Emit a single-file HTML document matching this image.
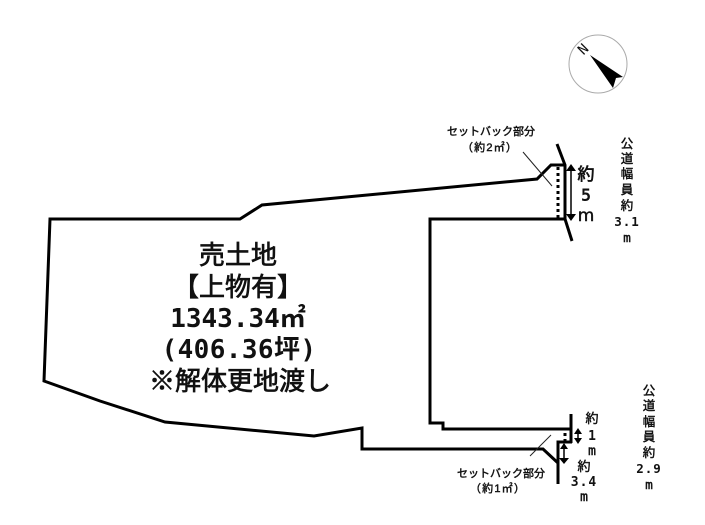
<!DOCTYPE html>
<html><head><meta charset="utf-8"><style>
html,body{margin:0;padding:0;background:#fff}
svg{display:block}
text{fill:#111;text-anchor:middle}
.m{font-family:"DejaVu Sans Mono","Noto Sans CJK JP",sans-serif;font-weight:bold}
.c{font-family:"Liberation Sans","Noto Sans CJK JP",sans-serif;stroke:#111;stroke-width:.7}
.t{font-family:"Liberation Sans","Noto Sans CJK JP",sans-serif;stroke:#111;stroke-width:.45}
.n{font-family:"DejaVu Sans Mono",monospace;font-weight:normal}
</style></head><body>
<svg width="705" height="525" viewBox="0 0 705 525" xmlns="http://www.w3.org/2000/svg">
<!-- lot outline -->
<polyline fill="none" stroke="#000" stroke-width="3" points="565,165 551,165 537,179 262,205 240,219 50,219 44,381 100,401 165,422 314,436 362,428 362,449 543,449 558,463"/>
<polyline fill="none" stroke="#000" stroke-width="3" points="566,219 430,219 430,423 443,423 443,429 571,429"/>
<polyline fill="none" stroke="#000" stroke-width="3" points="572,442 558,442 558,484"/>
<!-- roads -->
<polyline fill="none" stroke="#000" stroke-width="3" points="557,144 565,165 565,219 572,241"/>
<line x1="571" y1="414" x2="571" y2="443" stroke="#000" stroke-width="3"/>
<!-- setback dots -->
<line x1="558" y1="167" x2="558" y2="218" stroke="#000" stroke-width="3" stroke-dasharray="3 3"/>
<line x1="565" y1="433" x2="565" y2="441" stroke="#000" stroke-width="3" stroke-dasharray="3 3"/>
<!-- leaders -->
<line x1="523" y1="152" x2="552" y2="186" stroke="#222" stroke-width="1"/>
<line x1="530" y1="456" x2="551" y2="435" stroke="#222" stroke-width="1"/>
<!-- dimension arrows -->
<g fill="#000" stroke="#000">
<line x1="571" y1="168" x2="571" y2="218" stroke-width="1.5"/>
<polygon points="571,164 566,171 576,171" stroke="none"/>
<polygon points="571,221 566,214 576,214" stroke="none"/>
<line x1="578" y1="431" x2="578" y2="441" stroke-width="1.5"/>
<polygon points="578,428 574,434 582,434" stroke="none"/>
<polygon points="578,444 574,438 582,438" stroke="none"/>
<line x1="564" y1="444" x2="564" y2="462" stroke-width="1.5"/>
<polygon points="564,443 560,449 568,449" stroke="none"/>
<polygon points="564,464 559,458 569,458" stroke="none"/>
</g>
<!-- compass -->
<circle cx="598" cy="64" r="29" fill="#fff" stroke="#aaa" stroke-width="1"/>
<polygon points="590,55 623,77 616,78 613,88" fill="#000"/>
<text class="n" x="583" y="54" font-size="14" transform="rotate(-45 583 49)">N</text>
<!-- main label -->
<g font-size="26">
<text class="c" x="238" y="264">売土地</text>
<text class="c" x="238" y="296">【上物有】</text>
<text class="m" x="238" y="327">1343.34㎡</text>
<text class="m" x="239" y="358" style="letter-spacing:.4px">(406.36坪)</text>
<text class="c" x="240" y="390">※解体更地渡し</text>
</g>
<!-- setback labels -->
<g font-size="11">
<text class="t" x="491" y="135">セットバック部分</text>
<text class="t" x="490" y="151" style="letter-spacing:1.2px">（約2㎡）</text>
<text class="t" x="501" y="477">セットバック部分</text>
<text class="t" x="498" y="492" style="letter-spacing:1.2px">（約1㎡）</text>
</g>
<!-- width 5m -->
<g font-size="17">
<text class="c" x="586" y="180">約</text>
<text class="m" x="586" y="201">5</text>
<text class="t" x="586" y="221" style="font-family:'DejaVu Sans'">m</text>
</g>
<!-- road 3.1 -->
<g font-size="12.5">
<text class="t" x="627" y="148">公</text>
<text class="t" x="627" y="163">道</text>
<text class="t" x="627" y="178">幅</text>
<text class="t" x="627" y="194">員</text>
<text class="t" x="627" y="210">約</text>
<text class="m" x="627" y="226" style="letter-spacing:1px">3.1</text>
<text class="t" x="627" y="242" style="font-family:'DejaVu Sans Mono'">m</text>
</g>
<!-- road 2.9 -->
<g font-size="12.5">
<text class="t" x="649" y="395">公</text>
<text class="t" x="649" y="410">道</text>
<text class="t" x="649" y="426">幅</text>
<text class="t" x="649" y="441">員</text>
<text class="t" x="649" y="457">約</text>
<text class="m" x="649" y="473" style="letter-spacing:1px">2.9</text>
<text class="t" x="649" y="489" style="font-family:'DejaVu Sans Mono'">m</text>
</g>
<!-- small dims -->
<g font-size="13">
<text class="t" x="592" y="423">約</text>
<text class="m" x="592" y="440">1</text>
<text class="t" x="592" y="455" style="font-family:'DejaVu Sans Mono'">m</text>
<text class="t" x="584" y="471">約</text>
<text class="m" x="584" y="486" style="letter-spacing:1px">3.4</text>
<text class="t" x="584" y="501" style="font-family:'DejaVu Sans Mono'">m</text>
</g>
</svg>
</body></html>
